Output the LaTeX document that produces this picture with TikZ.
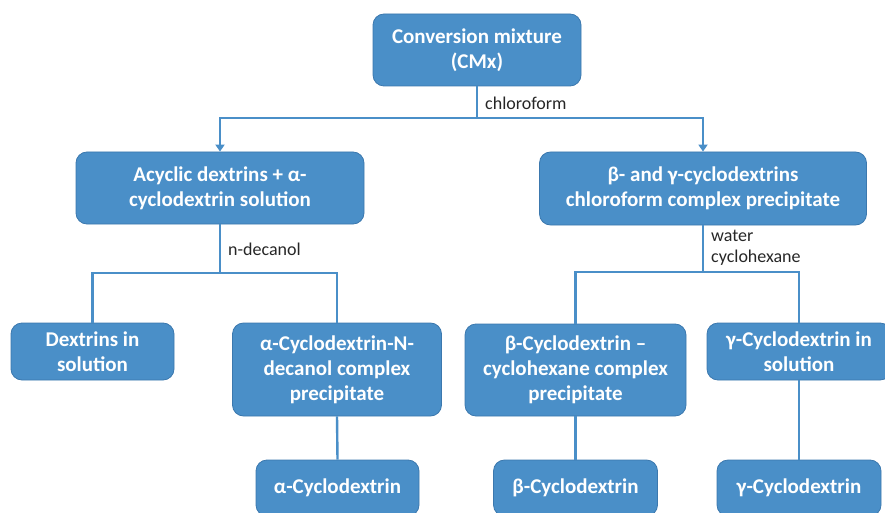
\documentclass[tikz,border=0pt]{standalone}
\usepackage{fontspec}
\setmainfont{Carlito}
\usetikzlibrary{arrows.meta}
\definecolor{boxfill}{HTML}{4A8FC8}
\definecolor{boxedge}{HTML}{3B78AE}
\definecolor{linec}{HTML}{4A8FC8}
\tikzset{
  box/.style={draw=boxedge, line width=0.8pt, fill=boxfill, rounded corners=11pt,
    text=white, font=\fontsize{21}{25}\selectfont\bfseries, align=center, inner sep=0pt},
  conn/.style={draw=linec, line width=2.4pt},
  arr/.style={conn, -{Triangle[length=7pt,width=9pt]}},
  lbl/.style={font=\fontsize{18}{21}\selectfont, text=black!85, inner sep=0pt, align=left}
}
\begin{document}
\begin{tikzpicture}[x=1pt,y=-1pt]
\useasboundingbox (0,0) rectangle (885,513);
\begin{scope}
\clip (0,0) rectangle (885,513);
% nodes
\node[box, minimum width=208pt, minimum height=72pt] (cmx) at (477,50) {Conversion mixture\\(CMx)};
\node[box, minimum width=288pt, minimum height=72pt] (acy) at (220,188) {Acyclic dextrins + α-\\cyclodextrin solution};
\node[box, minimum width=327pt, minimum height=73pt] (bg) at (703,188.5) {β- and γ-cyclodextrins\\chloroform complex precipitate};
\node[box, minimum width=163pt, minimum height=57pt] (dex) at (92.5,351.5) {Dextrins in\\solution};
\node[box, minimum width=209pt, minimum height=93pt] (acx) at (337,369.5) {α-Cyclodextrin-N-\\decanol complex\\precipitate};
\node[box, minimum width=163pt, minimum height=56pt] (acd) at (337.5,488) {α-Cyclodextrin};
\node[box, minimum width=221pt, minimum height=92pt] (bcx) at (575.5,370) {β-Cyclodextrin –\\cyclohexane complex\\precipitate};
\node[box, minimum width=184pt, minimum height=57pt] (gsol) at (799,351.5) {γ-Cyclodextrin in\\solution};
\node[box, minimum width=164pt, minimum height=56pt] (bcd) at (575.5,488) {β-Cyclodextrin};
\node[box, minimum width=164pt, minimum height=56pt] (gcd) at (799,488) {γ-Cyclodextrin};
% junctions
\coordinate (j1) at (477,118);
\coordinate (j2) at (220,273);
\coordinate (j3) at (703,272);
% connectors
\draw[conn] (cmx.south) -- (j1);
\draw[arr] (j1) -| (acy.north);
\draw[arr] (j1) -| (bg.north);
\draw[conn] (acy.south) -- (j2);
\draw[conn] (j2) -| (dex.north);
\draw[conn] (j2) -| (acx.north);
\draw[conn] (acx.south) -- (acd.north);
\draw[conn] (bg.south) -- (j3);
\draw[conn] (j3) -| (bcx.north);
\draw[conn] (j3) -| (gsol.north);
\draw[conn] (bcx.south) -- (bcd.north);
\draw[conn] (gsol.south) -- (gcd.north);
% labels
\node[lbl, anchor=west] (l1) at (485,103) {chloroform};
\node[lbl, anchor=west] (l2) at (228,249) {n-decanol};
\node[lbl, anchor=west] (l3) at (711,247.5) {water\\cyclohexane};
\end{scope}
\end{tikzpicture}
\end{document}
